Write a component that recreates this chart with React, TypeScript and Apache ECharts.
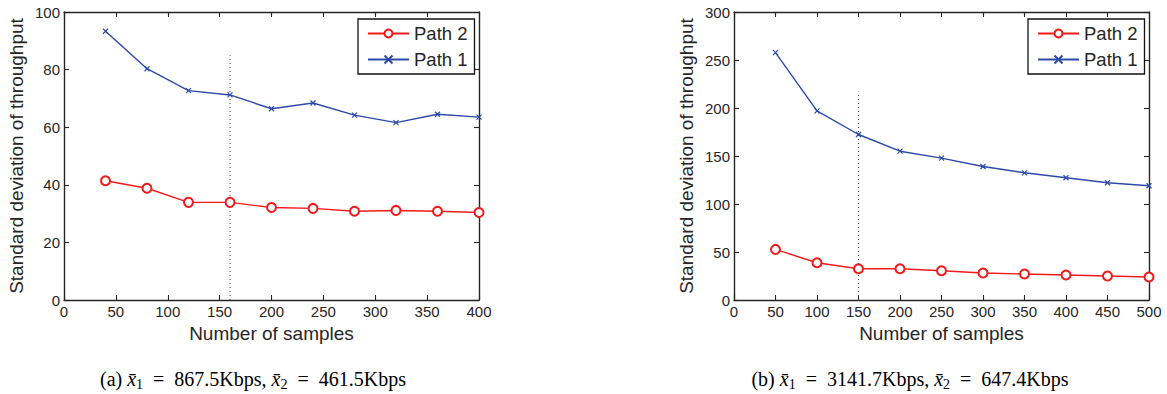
import React, { useEffect, useRef } from "react";
import * as echarts from "echarts";

const samplesA = [40, 80, 120, 160, 200, 240, 280, 320, 360, 400];
const path1A = [93.3, 80.3, 72.7, 71.2, 66.4, 68.4, 64.2, 61.6, 64.5, 63.5];
const path2A = [41.4, 38.8, 33.9, 33.9, 32.1, 31.8, 30.8, 31.1, 30.8, 30.4];

const samplesB = [50, 100, 150, 200, 250, 300, 350, 400, 450, 500];
const path1B = [257.7, 197, 172.4, 155, 147.8, 139.1, 132.5, 127.3, 122.1, 119];
const path2B = [52.7, 38.8, 32.6, 32.6, 30.5, 28.1, 27.1, 26, 25, 23.9];

const dottedA = [[160, 0], [160, 85]];
const dottedB = [[150, 0], [150, 217]];

const legendNames = ["Path 2", "Path 1"];
const xTitle = "Number of samples";
const yTitle = "Standard deviation of throughput";

const RED = "#f01a1a";
const BLUE = "#2c4aa8";
const AXIS = "#262626";
const FONT = "'Liberation Sans', Arial, Helvetica, sans-serif";
const SERIF = "'Liberation Serif', 'DejaVu Serif', serif";
const CROSS = "path://M0 0L10 10M10 0L0 10";

function zip(xs: number[], ys: number[]) {
  return xs.map((x, i) => [x, ys[i]]);
}

function axesFor(gridIndex: number, xmax: number, ymax: number, yint: number) {
  const line = { show: true, onZero: false, lineStyle: { color: AXIS, width: 1.4 } };
  const tick = { show: true, inside: true, length: 5, lineStyle: { color: AXIS, width: 1.1 } };
  const xAxes = [
    {
      type: "value", gridIndex, min: 0, max: xmax, interval: 50, position: "bottom",
      axisLine: line, axisTick: tick, splitLine: { show: false },
      axisLabel: { color: AXIS, fontSize: 15, fontFamily: FONT, margin: 4 },
      name: xTitle, nameLocation: "middle", nameGap: 21,
      nameTextStyle: { color: AXIS, fontSize: 19, fontFamily: FONT },
    },
    {
      type: "value", gridIndex, min: 0, max: xmax, interval: 50, position: "top",
      axisLine: line, axisTick: tick, splitLine: { show: false },
      axisLabel: { show: false },
    },
  ];
  const yAxes = [
    {
      type: "value", gridIndex, min: 0, max: ymax, interval: yint, position: "left",
      axisLine: line, axisTick: tick, splitLine: { show: false },
      axisLabel: { color: AXIS, fontSize: 15, fontFamily: FONT, margin: 4 },
      name: yTitle, nameLocation: "middle", nameGap: 38,
      nameTextStyle: { color: AXIS, fontSize: 19, fontFamily: FONT },
    },
    {
      type: "value", gridIndex, min: 0, max: ymax, interval: yint, position: "right",
      axisLine: line, axisTick: tick, splitLine: { show: false },
      axisLabel: { show: false },
    },
  ];
  return { xAxes, yAxes };
}

function seriesFor(axisIdx: number, xs: number[], p1: number[], p2: number[], dotted: number[][]) {
  return [
    {
      name: "Path 2", type: "line", xAxisIndex: axisIdx, yAxisIndex: axisIdx,
      data: zip(xs, p2), symbol: "emptyCircle", symbolSize: 9,
      lineStyle: { color: RED, width: 1.4 },
      itemStyle: { color: RED, borderColor: RED, borderWidth: 1.3 },
    },
    {
      name: "Path 1", type: "line", xAxisIndex: axisIdx, yAxisIndex: axisIdx,
      data: zip(xs, p1), symbol: CROSS, symbolSize: 5,
      lineStyle: { color: BLUE, width: 1.4 },
      itemStyle: { color: BLUE, borderColor: BLUE, borderWidth: 1.2 },
    },
    {
      name: "threshold", type: "line", xAxisIndex: axisIdx, yAxisIndex: axisIdx,
      data: dotted, symbol: "none",
      lineStyle: { color: "#444", width: 1, type: [1, 3] },
      silent: true,
    },
    {
      name: "frame", type: "line", xAxisIndex: axisIdx + 1, yAxisIndex: axisIdx + 1,
      data: [], symbol: "none", silent: true,
    },
  ];
}

function legendFor(left: number) {
  return {
    data: legendNames.map((n) => ({ name: n })),
    orient: "vertical", left, top: 19,
    itemWidth: 41, itemHeight: 10, itemGap: 7,
    padding: [5, 7, 5, 9],
    backgroundColor: "#fff", borderColor: "#111", borderWidth: 1.3, borderRadius: 0,
    textStyle: { color: AXIS, fontSize: 18.5, fontFamily: FONT },
    selectedMode: false,
  };
}

const captionRich = {
  n: { fontSize: 20, fontFamily: SERIF, color: "#111" },
  it: { fontSize: 20, fontStyle: "italic", fontFamily: SERIF, color: "#111" },
  sub: { fontSize: 14, fontFamily: SERIF, color: "#111", padding: [10, 0, 0, 0] },
};

export default function App() {
  const ref = useRef<HTMLDivElement>(null);
  useEffect(() => {
    if (!ref.current) return;
    const chart = echarts.init(ref.current, null, { renderer: "svg" });
    const a = axesFor(0, 400, 100, 20);
    const b = axesFor(1, 500, 300, 50);
    chart.setOption({
      animation: false,
      backgroundColor: "#fff",
      grid: [
        { left: 64, top: 12, width: 415, height: 288 },
        { left: 734, top: 12, width: 415, height: 288 },
      ],
      xAxis: [...a.xAxes, ...b.xAxes],
      yAxis: [...a.yAxes, ...b.yAxes],
      legend: [legendFor(358), legendFor(1028)],
      series: [
        ...seriesFor(0, samplesA, path1A, path2A, dottedA),
        ...seriesFor(2, samplesB, path1B, path2B, dottedB),
      ],
      graphic: [
        {
          type: "text", x: 253, y: 379,
          style: {
            text: "{n|(a) }{it|x̄}{sub|1}{n|  =  867.5Kbps, }{it|x̄}{sub|2}{n|  =  461.5Kbps}",
            rich: captionRich, align: "center", verticalAlign: "middle",
          },
        },
        {
          type: "text", x: 910, y: 379,
          style: {
            text: "{n|(b) }{it|x̄}{sub|1}{n|  =  3141.7Kbps, }{it|x̄}{sub|2}{n|  =  647.4Kbps}",
            rich: captionRich, align: "center", verticalAlign: "middle",
          },
        },
      ],
    });
    return () => chart.dispose();
  }, []);
  return (
    <div
      ref={ref}
      style={{ position: "fixed", left: 0, top: 0, width: 1167, height: 394 }}
    />
  );
}
